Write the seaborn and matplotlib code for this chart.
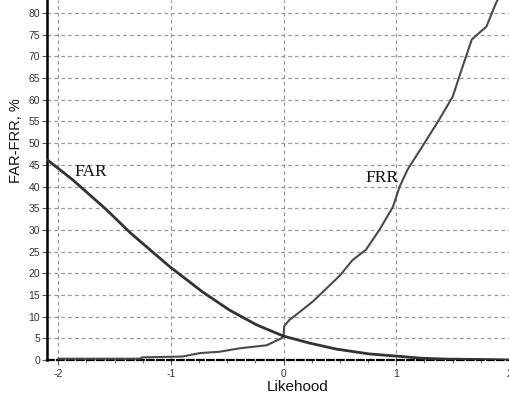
import matplotlib
matplotlib.use("Agg")
import matplotlib.pyplot as plt
import seaborn as sns
import pandas as pd
import numpy as np
from matplotlib.ticker import MultipleLocator

far_x = [-2.1, -1.87, -1.57, -1.36, -1.01, -0.72, -0.48, -0.24, 0.0, 0.23, 0.47, 0.76, 1.0, 1.23, 1.45, 1.82, 2.0]
far_y = [46.2, 41.5, 34.6, 29.3, 21.5, 15.7, 11.5, 8.1, 5.5, 3.9, 2.5, 1.4, 0.9, 0.4, 0.2, 0.1, 0.0]

frr_x = [-2.0, -1.27, -1.26, -0.9, -0.74, -0.57, -0.39, -0.15, -0.02, 0.0, 0.005, 0.05, 0.11,
         0.26, 0.38, 0.5, 0.61, 0.73, 0.85, 0.97, 1.03, 1.1, 1.23, 1.38, 1.5, 1.58, 1.67, 1.8, 1.88, 1.95]
frr_y = [0.3, 0.3, 0.6, 0.8, 1.6, 1.9, 2.7, 3.4, 5.0, 5.6, 7.8, 9.2, 10.4,
         13.5, 16.5, 19.5, 23.0, 25.4, 30.0, 35.3, 40.0, 43.9, 49.2, 55.4, 60.7, 67.0, 73.9, 76.9, 82.0, 86.0]

y_ticks = list(range(0, 81, 5))
x_ticks = [-2, -1, 0, 1, 2]

sns.set_style("white")
plt.rcParams['font.family'] = ['Liberation Sans', 'DejaVu Sans']

df_far = pd.DataFrame({"x": far_x, "y": far_y})
df_frr = pd.DataFrame({"x": frr_x, "y": frr_y})

fig = plt.figure(figsize=(5.09, 3.98), dpi=100)
ax = fig.add_axes([47/509, 38/398, 462/509, 360/398])

ax.set_xlim(-2.1, 2.0)
ax.set_ylim(0, 83)

# grid
for yv in y_ticks[1:]:
    ax.axhline(yv, color="#9a9a9a", lw=0.9, ls=(0, (3, 2.5)), zorder=0)
for xv in x_ticks[:-1]:
    ax.axvline(xv, color="#9a9a9a", lw=0.9, ls=(0, (3, 2.5)), zorder=0)

sns.lineplot(data=df_frr, x="x", y="y", ax=ax, color="#4a4a4a", lw=1.5, sort=False, zorder=3)
sns.lineplot(data=df_far, x="x", y="y", ax=ax, color="#333333", lw=2.0, sort=False, zorder=4)

ax.text(-1.71, 43.3, "FAR", family="Liberation Serif", fontsize=12.5, ha="center", va="center", color="#111111")
ax.text(0.87, 42.0, "FRR", family="Liberation Serif", fontsize=12.5, ha="center", va="center", color="#111111")

ax.set_yticks(y_ticks)
ax.set_xticks(x_ticks)
ax.set_xticklabels([str(v) for v in x_ticks])
ax.xaxis.set_minor_locator(MultipleLocator(0.25))
ax.tick_params(axis="y", which="major", direction="out", length=3.5, width=0.8, pad=1.5,
               labelsize=7.5, labelcolor="#333333", color="#555555", left=True)
ax.tick_params(axis="x", which="major", direction="out", length=3.5, width=0.8, pad=3,
               labelsize=7.5, labelcolor="#333333", color="#555555", bottom=True)
ax.tick_params(axis="x", which="minor", direction="out", length=2, width=0.7, color="#777777", bottom=True)

for s in ["top", "right"]:
    ax.spines[s].set_visible(False)
ax.spines["left"].set_color("black")
ax.spines["left"].set_linewidth(1.8)
ax.spines["bottom"].set_color("black")
ax.spines["bottom"].set_linewidth(1.6)
ax.spines["bottom"].set_linestyle((0, (3, 1.5)))

ax.set_xlabel("Likehood", fontsize=11, color="#111111")
ax.set_ylabel("FAR-FRR, %", fontsize=10.5, color="#111111")
ax.xaxis.set_label_coords((298-47)/462, (360-380)/360)
ax.yaxis.set_label_coords((23-47)/462, (360-141)/360)

fig.savefig("out.png", dpi=100)
